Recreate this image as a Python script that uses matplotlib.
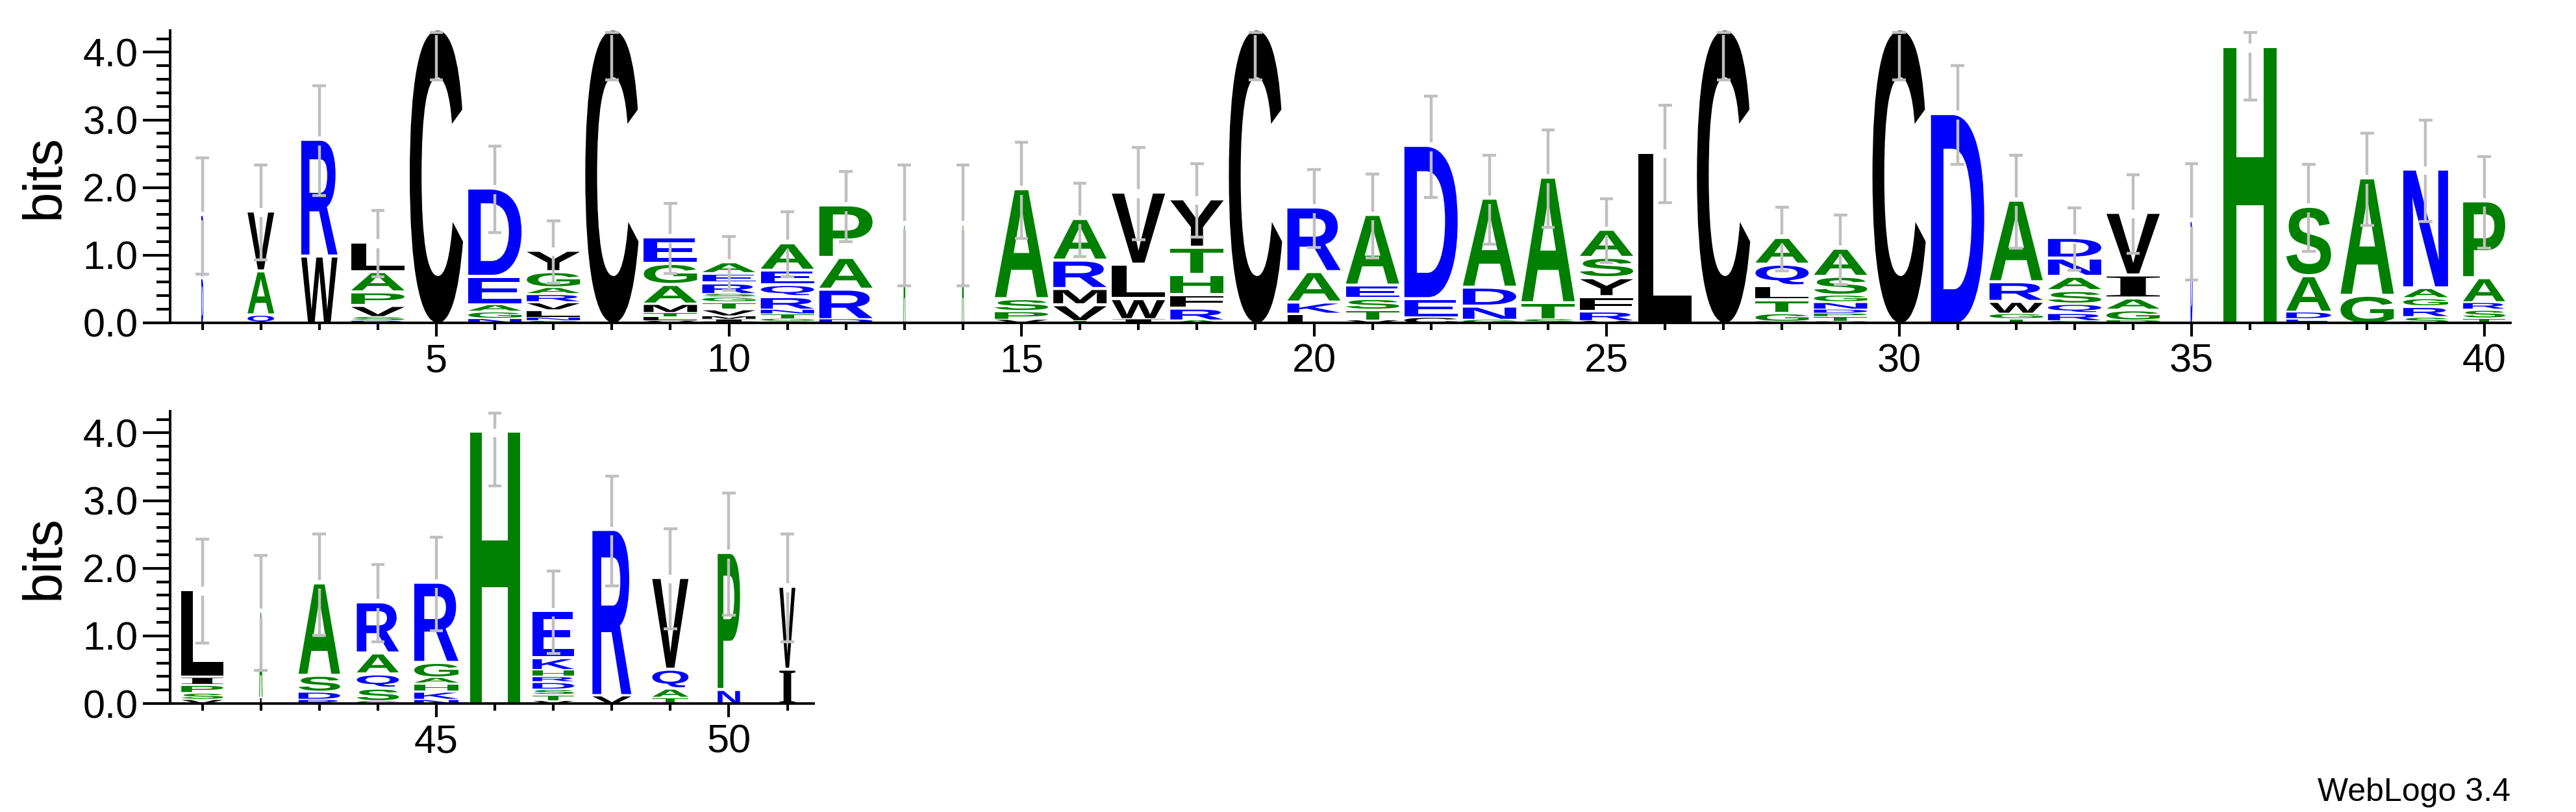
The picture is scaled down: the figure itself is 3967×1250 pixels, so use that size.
import matplotlib
matplotlib.use('Agg')
import matplotlib.pyplot as plt
from matplotlib.textpath import TextPath
from matplotlib.patches import PathPatch
from matplotlib.font_manager import FontProperties
from matplotlib.transforms import Affine2D
from matplotlib.ticker import FixedLocator, MultipleLocator

plt.rcParams['font.family'] = ['Liberation Sans', 'DejaVu Sans']

# letters of each stack, bottom -> top
stack_letters = [
    "DR", "QAV", "WR", "RSVPAL", "C", "NGAED", "SNLVRAGY", "C", "VLTMAGE", "DIMVTGSREA",
    "SGTNRQEA", "DRAP", "A", "A", "VPSA", "TVMRA", "IWLV", "ARFHTY", "C", "LKAR",
    "VTSEA", "CED", "GNDA", "STA", "VRFYSA", "L", "C", "VGTLQA", "VTPDNGSA", "C",
    "D", "TGWRA", "GRQSAND", "PGAIV", "D", "H", "EDAS", "GA", "SRGAN", "TSRAP",
    "VSPIL", "IA", "RDSA", "GSQAR", "NKHAGR", "H", "VTSDRHKE", "VR", "TAQV", "NP", "IV",
]
# letter heights in bits, same order
stack_heights = [
    [0.69, 0.89], [0.14, 0.65, 0.84], [1.01, 1.68], [0.04, 0.06, 0.18, 0.20, 0.30, 0.39],
    [4.32], [0.075, 0.105, 0.11, 0.42, 1.26], [0.04, 0.05, 0.11, 0.12, 0.12, 0.10, 0.24, 0.27],
    [4.32], [0.04, 0.06, 0.06, 0.14, 0.29, 0.31, 0.35],
    [0.02, 0.04, 0.05, 0.10, 0.11, 0.07, 0.05, 0.17, 0.14, 0.13],
    [0.03, 0.04, 0.07, 0.07, 0.20, 0.18, 0.21, 0.36], [0.07, 0.45, 0.47, 0.73],
    [1.44], [1.44], [0.06, 0.13, 0.19, 1.58], [0.04, 0.25, 0.24, 0.42, 0.57],
    [0.07, 0.31, 0.51, 1.02], [0.05, 0.19, 0.20, 0.30, 0.40, 0.67], [4.32],
    [0.15, 0.18, 0.45, 0.91], [0.05, 0.16, 0.17, 0.20, 1.00], [0.10, 0.28, 2.22],
    [0.06, 0.21, 0.28, 1.27], [0.07, 0.25, 1.81], [0.04, 0.15, 0.22, 0.28, 0.30, 0.37],
    [2.50], [4.32], [0.03, 0.13, 0.20, 0.21, 0.32, 0.35],
    [0.03, 0.07, 0.05, 0.06, 0.11, 0.11, 0.28, 0.37], [4.32], [3.07],
    [0.07, 0.08, 0.19, 0.29, 1.16], [0.04, 0.12, 0.14, 0.20, 0.21, 0.27, 0.26],
    [0.05, 0.16, 0.18, 0.34, 0.88], [1.49], [4.06], [0.07, 0.11, 0.54, 0.98],
    [0.43, 1.69], [0.10, 0.16, 0.12, 0.16, 1.71], [0.08, 0.13, 0.11, 0.37, 1.09],
    [0.07, 0.10, 0.12, 0.12, 1.25], [0.10, 1.24], [0.07, 0.12, 0.25, 1.32],
    [0.05, 0.20, 0.21, 0.31, 0.71], [0.07, 0.12, 0.12, 0.09, 0.23, 1.14], [4.0],
    [0.05, 0.09, 0.08, 0.11, 0.08, 0.10, 0.19, 0.65], [0.14, 2.41],
    [0.10, 0.14, 0.29, 1.31], [0.23, 1.98], [0.53, 1.18],
]
# stack width (fraction of occupancy)
stack_width = [
    0.04, 0.50, 0.68, 1, 1, 1, 1, 1, 1, 1,
    1, 1, 0.04, 0.04, 1, 1, 1, 1, 1, 1,
    1, 1, 1, 1, 1, 1, 1, 1, 1, 1,
    1, 1, 1, 1, 0.04, 1, 0.84, 1, 0.84, 0.79,
    0.79, 0.06, 0.78, 0.79, 0.83, 0.94, 0.78, 0.73, 0.68, 0.42, 0.30,
]
# error bar half length (bits)
stack_err = [
    0.86, 0.70, 0.81, 0.49, 0.73, 0.64, 0.46, 0.73, 0.52, 0.40,
    0.48, 0.52, 0.89, 0.89, 0.71, 0.54, 0.68, 0.54, 0.73, 0.58,
    0.62, 0.75, 0.66, 0.72, 0.47, 0.72, 0.73, 0.47, 0.51, 0.73,
    0.73, 0.69, 0.46, 0.58, 0.86, 0.77, 0.64, 0.68, 0.75, 0.68,
    0.77, 0.85, 0.75, 0.57, 0.69, 0.78, 0.61, 0.81, 0.74, 0.90, 0.80,
]
positions = list(range(1, len(stack_letters) + 1))

color = {}
for aa in 'RKDENQ':
    color[aa] = '#0000FF'
for aa in 'SGHTAP':
    color[aa] = '#008000'
for aa in 'YVMCLFIW':
    color[aa] = '#000000'

YMAX = 4.32
fp = FontProperties(family='Liberation Sans', weight='bold')
fp_serif = FontProperties(family='Liberation Serif', weight='bold')  # I with bars
glyphs = {}


def draw_stack(ax, x, letters, heights, frac):
    w = 0.91 * frac
    y = 0.0
    n = len(letters)
    for i, (ch, h) in enumerate(zip(letters, heights)):
        if ch not in glyphs:
            glyphs[ch] = TextPath((0, 0), ch, size=100, prop=fp_serif if ch == 'I' else fp)
        p = glyphs[ch]
        ext = p.get_extents()
        gap = min(0.045, 0.25 * h) if i < n - 1 else 0.0
        t = (Affine2D().translate(-ext.x0, -ext.y0)
             .scale(w / ext.width, (h - gap) / ext.height)
             .translate(x - w / 2, y))
        ax.add_patch(PathPatch(t.transform_path(p), fc=color[ch], ec='none', lw=0))
        y += h
    return y


def draw_err(ax, x, top, e):
    ec = '#BFBFBF'
    lo = top - e
    hi = min(top + e, 4.29)
    g = 0.065
    kw = dict(color=ec, lw=3.2, solid_capstyle='butt', zorder=5)
    ax.plot([x, x], [lo, min(top - g, hi)], **kw)
    if top + g < hi:
        ax.plot([x, x], [top + g, hi], **kw)
    cw = 0.115
    ax.plot([x - cw, x + cw], [lo, lo], **kw)
    ax.plot([x - cw, x + cw], [hi, hi], **kw)


fig = plt.figure(figsize=(39.67, 12.5), dpi=100)
ax1 = fig.add_axes([0.06617, 0.6024, 0.9084, 0.36])
ax2 = fig.add_axes([0.06617, 0.1336, 0.2497, 0.36])

rows = [(ax1, 1, 40), (ax2, 41, 51)]
for ax, p0, p1 in rows:
    for p in range(p0, p1 + 1):
        i = p - 1
        top = draw_stack(ax, p, stack_letters[i], stack_heights[i], stack_width[i])
        draw_err(ax, p, top, stack_err[i])
    ax.set_xlim(p0 - 0.545, p1 + 0.45)
    ax.set_ylim(0, YMAX)
    for s in ['top', 'right']:
        ax.spines[s].set_visible(False)
    for s in ['left', 'bottom']:
        ax.spines[s].set_linewidth(2.8)
    majors = [p for p in range(p0, p1 + 1) if p % 5 == 0]
    minors = [p for p in range(p0, p1 + 1) if p % 5 != 0]
    ax.xaxis.set_major_locator(FixedLocator(majors))
    ax.xaxis.set_minor_locator(FixedLocator(minors))
    ax.set_xticklabels([str(p) for p in majors])
    ax.yaxis.set_major_locator(FixedLocator([0, 1, 2, 3, 4]))
    ax.yaxis.set_minor_locator(MultipleLocator(0.2))
    ax.set_yticklabels(['0.0', '1.0', '2.0', '3.0', '4.0'])
    ax.tick_params(axis='x', which='major', length=15, width=3, pad=8, labelsize=44)
    ax.tick_params(axis='x', which='minor', length=8, width=3)
    ax.tick_params(axis='y', which='major', length=30, width=3, pad=6, labelsize=44)
    ax.tick_params(axis='y', which='minor', length=15, width=3)
    fig.text(69 / 3967, ax.get_position().y0 + 0.18, 'bits', rotation=90,
             ha='center', va='center', fontsize=60)

fig.text(3866 / 3967, 1 - 1233 / 1250, 'WebLogo 3.4', ha='right', va='baseline', fontsize=36)

fig.savefig('out.png', dpi=100)
